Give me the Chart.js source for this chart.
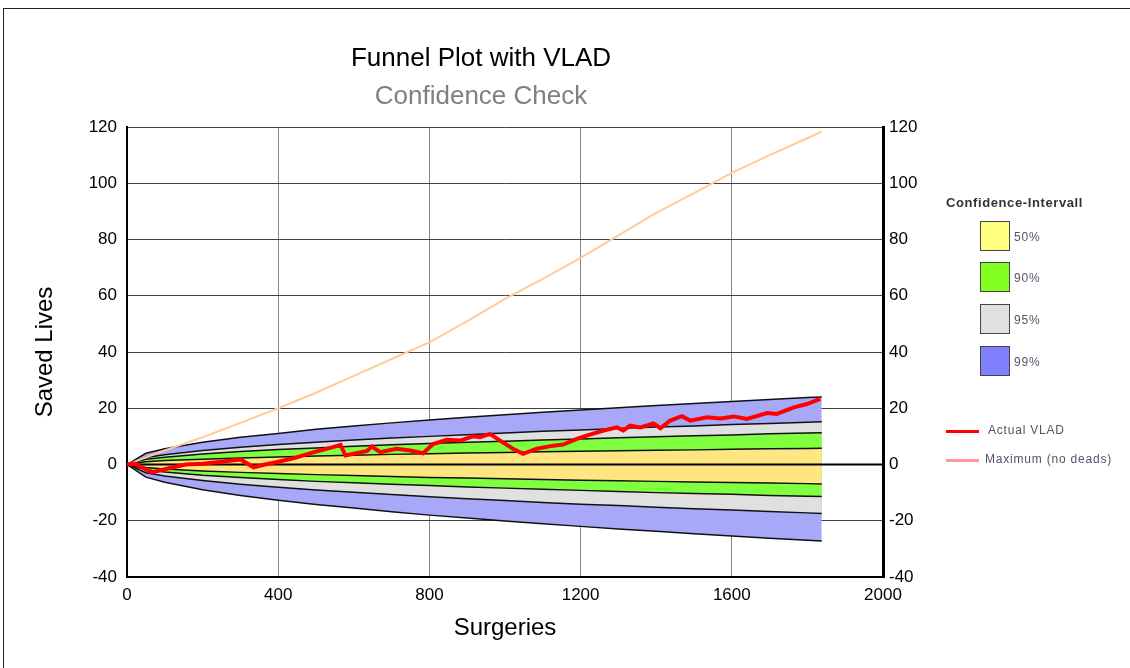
<!DOCTYPE html>
<html>
<head>
<meta charset="utf-8">
<script src="https://cdn.jsdelivr.net/npm/chart.js@4.4.0/dist/chart.umd.min.js"></script>
<style>
  body { margin: 0; background: #fff; font-family: "Liberation Sans", Arial, sans-serif; }
  #wrap { position: relative; width: 1130px; height: 668px; overflow: hidden; }
  #frame { position: absolute; left: 3px; top: 8px; width: 1130px; height: 668px;
           border-top: 1px solid #222; border-left: 1px solid #222; }
  .ttl { position: absolute; width: 400px; left: 281px; text-align: center; font-size: 26px; }
  #legend { position: absolute; left: 0; top: 0; font-size: 12px; color: #5a5068; }
  #legend .hd { position: absolute; left: 946px; top: 195px; font-size: 13px; font-weight: bold; color: #333;
                letter-spacing: 0.6px; white-space: nowrap; }
  #legend .box { position: absolute; left: 980px; width: 28px; height: 28px; border: 1.5px solid #444; }
  #legend .lb { position: absolute; white-space: nowrap; letter-spacing: 0.8px; }
  #legend .ln { position: absolute; left: 946px; width: 33px; height: 3px; }
</style>
</head>
<body>
<div id="wrap">
  <canvas id="chart" width="1130" height="668"></canvas>
  <div id="frame"></div>
  <div class="ttl" style="top:42px;color:#000">Funnel Plot with VLAD</div>
  <div class="ttl" style="top:80px;color:#808080">Confidence Check</div>
  <div id="legend"></div>
</div>
<script>
// band boundaries (saved lives) at these surgery counts
var surgeries = [0, 50, 100, 200, 300, 400, 500, 600, 700, 800, 900, 1000, 1100, 1200, 1300, 1400, 1500, 1600, 1700, 1800, 1838];
var ci99Hi = [0, 4.0, 5.6, 7.9, 9.7, 11.0, 12.5, 13.7, 14.8, 15.8, 16.8, 17.7, 18.6, 19.4, 20.2, 21.0, 21.7, 22.4, 23.1, 23.8, 24.0];
var ci95Hi = [0, 2.5, 3.5, 5.0, 6.1, 7.1, 7.9, 8.7, 9.4, 10.0, 10.6, 11.2, 11.8, 12.3, 12.8, 13.3, 13.7, 14.2, 14.6, 15.0, 15.2];
var ci90Hi = [0, 1.9, 2.6, 3.7, 4.6, 5.3, 5.9, 6.5, 7.0, 7.5, 7.9, 8.3, 8.7, 9.1, 9.5, 9.9, 10.2, 10.5, 10.9, 11.2, 11.3];
var ci50Hi = [0, 1.0, 1.4, 1.9, 2.3, 2.7, 3.0, 3.3, 3.6, 3.8, 4.1, 4.3, 4.5, 4.7, 4.9, 5.1, 5.2, 5.4, 5.6, 5.7, 5.8];
var ci50Lo = [0, -1.1, -1.6, -2.3, -2.8, -3.2, -3.6, -3.9, -4.3, -4.6, -4.8, -5.1, -5.3, -5.6, -5.8, -6.0, -6.2, -6.4, -6.6, -6.8, -6.9];
var ci90Lo = [0, -1.9, -2.7, -3.8, -4.6, -5.3, -6.0, -6.5, -7.0, -7.5, -8.0, -8.4, -8.8, -9.2, -9.6, -10.0, -10.3, -10.6, -11.0, -11.3, -11.4];
var ci95Lo = [0, -2.9, -4.1, -5.7, -7.0, -8.1, -9.1, -9.9, -10.7, -11.5, -12.2, -12.8, -13.5, -14.1, -14.6, -15.2, -15.7, -16.2, -16.7, -17.2, -17.4];
var ci99Lo = [0, -4.5, -6.3, -9.0, -11.0, -12.7, -14.2, -15.5, -16.8, -18.0, -19.0, -20.1, -21.1, -22.0, -22.9, -23.7, -24.6, -25.4, -26.2, -26.9, -27.2];

// actual VLAD
var vladSurg = [0, 20, 65, 105, 155, 200, 250, 300, 335, 365, 395, 440, 490, 540, 565, 578, 635, 648, 670, 713, 750, 783, 810, 846, 881, 916, 934, 960, 987, 1021, 1048, 1084, 1128, 1154, 1190, 1216, 1261, 1296, 1313, 1331, 1358, 1393, 1411, 1437, 1468, 1490, 1534, 1570, 1605, 1640, 1693, 1719, 1764, 1799, 1834];
var vladLives = [0, 0.3, -2.8, -1.5, 0, 0.3, 1.0, 1.8, -1.0, 0, 0.8, 2.2, 4.2, 6.0, 7.0, 3.2, 4.8, 6.4, 4.4, 5.6, 5.0, 4.0, 7.3, 8.8, 8.5, 10.0, 9.7, 10.9, 8.5, 5.6, 3.8, 5.6, 6.7, 7.1, 9.1, 10.3, 12.1, 13.2, 12.1, 13.8, 13.2, 14.6, 12.9, 15.6, 17.2, 15.6, 16.8, 16.4, 17.1, 16.2, 18.3, 18.0, 20.3, 21.5, 23.3];

// maximum (no deaths)
var maxSurg = [0, 100, 200, 300, 400, 500, 600, 700, 800, 900, 1000, 1100, 1200, 1300, 1400, 1500, 1600, 1700, 1800, 1838];
var maxLives = [0, 5, 9.7, 14.8, 20, 25.5, 31.5, 37.5, 43.4, 51, 58.9, 66, 73.5, 81.5, 89.5, 96.5, 103.7, 110, 116, 118.4];

var bandNames = ['50%', '90%', '95%', '99%'];
var bandColors = ['#FFE680', '#80FF40', '#E0E0E0', '#A8A8F8'];
var legendColors = ['#FFFF80', '#80FF20', '#E0E0E0', '#8080FF'];

function pts(xs, ys) {
    return xs.map(function(x, i) { return { x: x, y: ys[i] }; });
}

function edge(values, fillTo, color) {
    return {
        data: pts(surgeries, values),
        borderColor: '#111',
        borderWidth: 1.5,
        backgroundColor: color || 'transparent',
        fill: fillTo == null ? false : fillTo,
        pointRadius: 0,
        tension: 0,
        order: 3
    };
}

var datasets = [
    { label: 'Actual VLAD', data: pts(vladSurg, vladLives), borderColor: '#FF0000', borderWidth: 4,
      pointRadius: 0, fill: false, order: 0 },
    { label: 'Maximum (no deads)', data: pts(maxSurg, maxLives), borderColor: '#FFCC99', borderWidth: 2,
      pointRadius: 0, fill: false, order: 1 },
    { label: 'zero', data: [{ x: 0, y: 0 }, { x: 2000, y: 0 }], borderColor: '#000', borderWidth: 2,
      pointRadius: 0, fill: false, order: 2 },
    edge(ci50Hi, 4, bandColors[0]), edge(ci50Lo),
    edge(ci90Hi, 6, bandColors[1]), edge(ci90Lo),
    edge(ci95Hi, 8, bandColors[2]), edge(ci95Lo),
    edge(ci99Hi, 10, bandColors[3]), edge(ci99Lo)
];

Chart.defaults.font.family = '"Liberation Sans", Arial, sans-serif';
Chart.defaults.color = '#000';

function plain(v) { return String(v); }

var ctx = document.getElementById('chart');
var chart = new Chart(ctx, {
    type: 'line',
    data: { datasets: datasets },
    options: {
        responsive: false,
        animation: false,
        layout: { padding: { top: 127, left: 0, right: 0, bottom: 0 } },
        plugins: {
            legend: { display: false },
            tooltip: { enabled: false },
            filler: { drawTime: 'beforeDatasetsDraw' }
        },
        scales: {
            x: {
                type: 'linear', min: 0, max: 2000,
                ticks: { stepSize: 400, padding: 8, font: { size: 17 }, callback: plain },
                grid: { color: '#888', drawTicks: false },
                border: { color: '#000', width: 2 },
                title: { display: true, text: 'Surgeries', font: { size: 24 }, padding: { top: 0, bottom: 25 } },
                afterFit: function(s) { s.height = 91; }
            },
            y: {
                type: 'linear', position: 'left', min: -40, max: 120,
                ticks: { stepSize: 20, padding: 10, font: { size: 17 }, callback: plain },
                grid: { color: '#404040', drawTicks: false },
                border: { color: '#000', width: 2 },
                title: { display: true, text: 'Saved Lives', font: { size: 24 }, padding: { top: 31, bottom: 0 } },
                afterFit: function(s) { s.width = 127; }
            },
            y2: {
                type: 'linear', position: 'right', min: -40, max: 120,
                ticks: { stepSize: 20, padding: 6, font: { size: 17 }, callback: plain },
                grid: { drawOnChartArea: false, drawTicks: false },
                border: { color: '#000', width: 3 },
                afterFit: function(s) { s.width = 247; }
            }
        }
    }
});

// legend on the right
var lg = document.getElementById('legend');
var html = '<div class="hd">Confidence-Intervall</div>';
var boxTops = [221, 262, 304, 346];
bandNames.forEach(function(name, i) {
    html += '<div class="box" style="top:' + boxTops[i] + 'px;background:' + legendColors[i] + '"></div>';
    html += '<div class="lb" style="left:1014px;top:' + (boxTops[i] + 9) + 'px">' + name + '</div>';
});
html += '<div class="ln" style="top:430px;background:#FF0000"></div>';
html += '<div class="lb" style="left:988px;top:423px">' + datasets[0].label + '</div>';
html += '<div class="ln" style="top:459px;background:#FF9999"></div>';
html += '<div class="lb" style="left:985px;top:452px">' + datasets[1].label + '</div>';
lg.innerHTML = html;
</script>
</body>
</html>
